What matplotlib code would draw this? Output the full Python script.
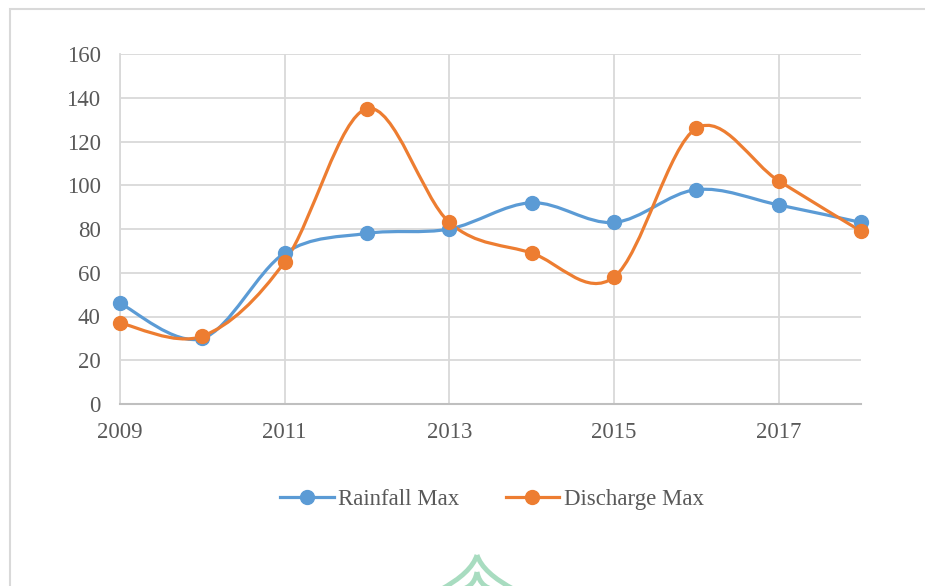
import matplotlib
matplotlib.use("Agg")
import matplotlib.pyplot as plt
import numpy as np
from matplotlib.path import Path
from matplotlib.patches import PathPatch, Rectangle
from matplotlib.lines import Line2D

years = [2009, 2010, 2011, 2012, 2013, 2014, 2015, 2016, 2017, 2018]
rainfall_max = [46, 30, 69, 78, 80, 92, 83, 98, 91, 83]
discharge_max = [37, 31, 65, 135, 83, 69, 58, 126, 102, 79]
y_ticks = [0, 20, 40, 60, 80, 100, 120, 140, 160]
x_ticks = [2009, 2011, 2013, 2015, 2017]

BLUE = "#5B9BD5"
ORANGE = "#ED7D31"
TXT = "#595959"
FS = 16.5

plt.rcParams["font.family"] = ["Liberation Serif", "DejaVu Serif"]

W, H = 925, 586
fig = plt.figure(figsize=(W / 100, H / 100), dpi=100)
ax = fig.add_axes([120 / W, 1 - 404 / H, (861 - 120) / W, (404 - 54) / H])


def smooth_path(xs, ys):
    # excel-like smoothed line: catmull-rom as cubic bezier segments
    p = np.column_stack([xs, ys]).astype(float)
    n = len(p)
    verts = [p[0]]
    codes = [Path.MOVETO]
    for i in range(n - 1):
        pm = p[i - 1] if i > 0 else p[i]
        pn = p[i + 2] if i + 2 < n else p[i + 1]
        c1 = p[i] + (p[i + 1] - pm) / 6
        c2 = p[i + 1] - (pn - p[i]) / 6
        verts += [c1, c2, p[i + 1]]
        codes += [Path.CURVE4] * 3
    return Path(verts, codes)


for vals, col, lab in [(rainfall_max, BLUE, "Rainfall Max"),
                       (discharge_max, ORANGE, "Discharge Max")]:
    ax.add_patch(PathPatch(smooth_path(years, vals), fill=False,
                           edgecolor=col, lw=2.3, zorder=3))
    ax.plot(years, vals, "o", color=col, markersize=10, zorder=4,
            clip_on=False)

ax.set_xlim(2009, 2018)
ax.set_ylim(0, 160)
ax.set_xticks(x_ticks)
ax.set_yticks(y_ticks)
ax.tick_params(length=0, labelsize=FS, labelcolor=TXT)
ax.tick_params(axis="x", pad=13)
ax.tick_params(axis="y", pad=14)
ax.grid(True, color="#d9d9d9", lw=1.3, zorder=0)
ax.set_axisbelow(True)
for s in ["top", "right"]:
    ax.spines[s].set_visible(False)
ax.spines["left"].set_color("#d9d9d9")
ax.spines["left"].set_linewidth(1.3)
ax.spines["bottom"].set_color("#bfbfbf")
ax.spines["bottom"].set_linewidth(1.5)

handles = [Line2D([], [], color=BLUE, lw=2.3, marker="o", markersize=10),
           Line2D([], [], color=ORANGE, lw=2.3, marker="o", markersize=10)]
fig.legend(handles, ["Rainfall Max", "Discharge Max"], loc="center",
           bbox_to_anchor=(492 / W, 1 - 499 / H), ncol=2, frameon=False,
           fontsize=FS, labelcolor=TXT, handlelength=2.35, handletextpad=0.2,
           columnspacing=2.0)

# outer chart frame
fig.patches.append(Rectangle((10 / W, -0.1), 1.2, (H - 9) / H + 0.1,
                             transform=fig.transFigure, fill=False,
                             edgecolor="#d9d9d9", lw=1.5))

# faint watermark arch at the bottom
def px(x, y):
    return (x / W, 1 - y / H)

for top, l, r in [(555, 440, 515), (572, 455, 500)]:
    for side in (l, r):
        arch = Path([px(477, top), px(477 + (side - 477) * 0.15, top + 18),
                     px(side, 590)], [Path.MOVETO, Path.CURVE3, Path.CURVE3])
        fig.patches.append(PathPatch(arch, transform=fig.transFigure,
                                     fill=False, edgecolor="#a8dcc0", lw=3.5))

fig.savefig("out.png", dpi=100)
